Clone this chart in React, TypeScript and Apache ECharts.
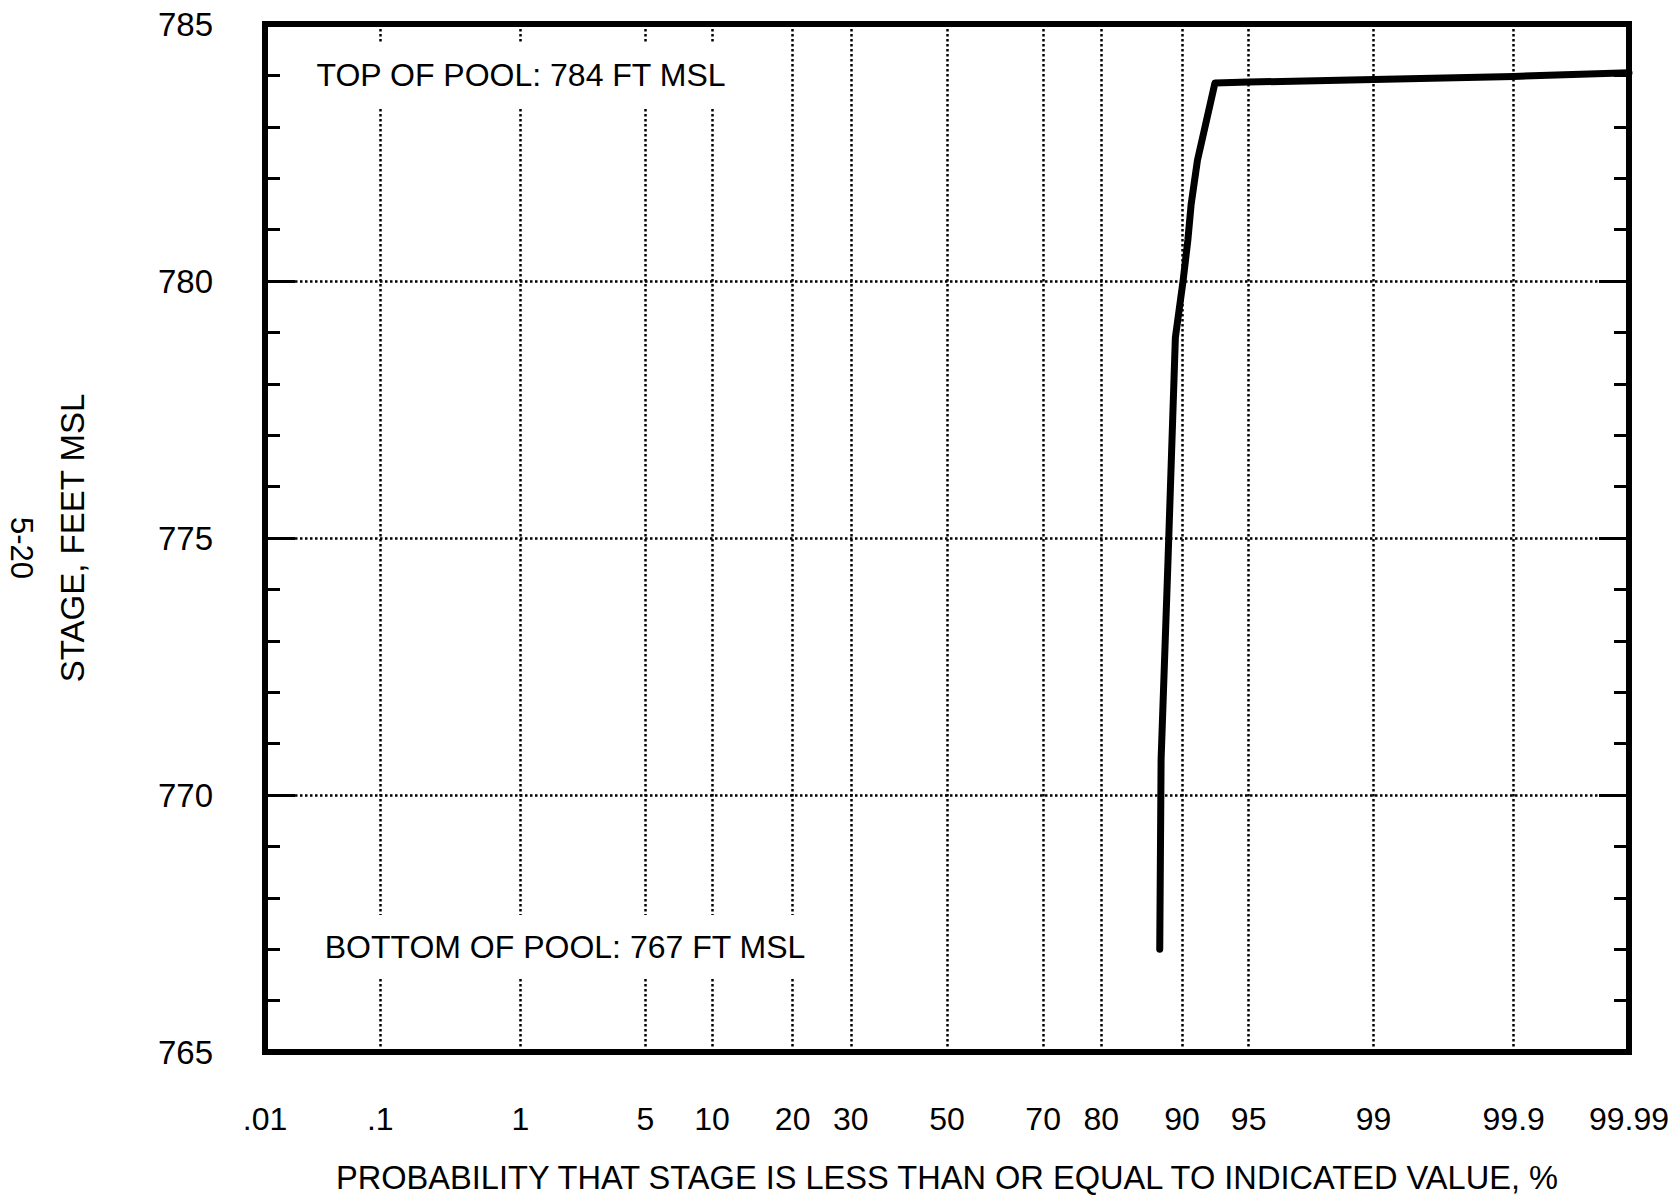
import React, { useEffect, useRef } from "react";
import * as echarts from "echarts";

// Probability (%) tick positions and labels on the normal-probability x axis
const probabilityTicks = [0.01, 0.1, 1, 5, 10, 20, 30, 50, 70, 80, 90, 95, 99, 99.9, 99.99];
const probabilityTickLabels = [".01", ".1", "1", "5", "10", "20", "30", "50", "70", "80", "90", "95", "99", "99.9", "99.99"];
// Stage axis
const stageMin = 765;
const stageMax = 785;
const stageInterval = 5;
// Stage-duration curve
const curveProbability = [87.7, 87.85, 88.6, 89.35, 90.1, 90.55, 90.85, 91.4, 92.8, 95, 99, 99.9, 99.99];
const curveStage = [767.0, 770.7, 774.6, 778.9, 780.0, 780.8, 781.5, 782.35, 783.85, 783.87, 783.92, 783.98, 784.05];

const FONT = "'Liberation Sans', Arial, Helvetica, sans-serif";

// inverse of the standard normal CDF (Acklam)
function normInv(p: number): number {
  const a = [-3.969683028665376e1, 2.209460984245205e2, -2.759285104469687e2, 1.38357751867269e2, -3.066479806614716e1, 2.506628277459239];
  const b = [-5.447609879822406e1, 1.615858368580409e2, -1.556989798598866e2, 6.680131188771972e1, -1.328068155288572e1];
  const c = [-7.784894002430293e-3, -3.223964580411365e-1, -2.400758277161838, -2.549732539343734, 4.374664141464968, 2.938163982698783];
  const d = [7.784695709041462e-3, 3.224671290700398e-1, 2.445134137142996, 3.754408661907416];
  const pl = 0.02425;
  const ph = 1 - pl;
  let q: number;
  let r: number;
  if (p < pl) {
    q = Math.sqrt(-2 * Math.log(p));
    return (((((c[0] * q + c[1]) * q + c[2]) * q + c[3]) * q + c[4]) * q + c[5]) / ((((d[0] * q + d[1]) * q + d[2]) * q + d[3]) * q + 1);
  }
  if (p <= ph) {
    q = p - 0.5;
    r = q * q;
    return ((((((a[0] * r + a[1]) * r + a[2]) * r + a[3]) * r + a[4]) * r + a[5]) * q) / (((((b[0] * r + b[1]) * r + b[2]) * r + b[3]) * r + b[4]) * r + 1);
  }
  q = Math.sqrt(-2 * Math.log(1 - p));
  return -(((((c[0] * q + c[1]) * q + c[2]) * q + c[3]) * q + c[4]) * q + c[5]) / ((((d[0] * q + d[1]) * q + d[2]) * q + d[3]) * q + 1);
}

const zOf = (pct: number) => normInv(pct / 100);

export default function App() {
  const ref = useRef<HTMLDivElement | null>(null);

  useEffect(() => {
    if (!ref.current) return;
    const chart = echarts.init(ref.current, null, { renderer: "svg" });

    const tickZ = probabilityTicks.map(zOf);
    const xMin = tickZ[0];
    const xMax = tickZ[tickZ.length - 1];
    const innerZ = tickZ.slice(1, -1);
    const labelFor = (v: number) => {
      let best = 0;
      let bd = Infinity;
      tickZ.forEach((z, i) => {
        const dd = Math.abs(z - v);
        if (dd < bd) {
          bd = dd;
          best = i;
        }
      });
      return probabilityTickLabels[best];
    };

    const data = curveProbability.map((p, i) => [zOf(p), curveStage[i]]);

    const gridLine = { color: "#000", width: 2.5, type: [2.5, 2.5] };

    const yCommon = {
      type: "value" as const,
      min: stageMin,
      max: stageMax,
      interval: stageInterval,
      axisLine: { show: true, onZero: false, lineStyle: { color: "#000", width: 6 } },
      axisTick: { show: true, inside: true, length: 30, lineStyle: { color: "#000", width: 3 } },
      minorTick: { show: true, splitNumber: 5, length: 15, lineStyle: { color: "#000", width: 3 } },
    };

    chart.setOption({
      animation: false,
      backgroundColor: "#fff",
      grid: {
        left: 265,
        right: 51,
        top: 24,
        bottom: 143,
        show: true,
        borderColor: "#000",
        borderWidth: 6,
        containLabel: false,
      },
      xAxis: {
        type: "value",
        min: xMin,
        max: xMax,
        axisLine: { show: true, onZero: false, lineStyle: { color: "#000", width: 6 } },
        axisTick: { show: false, customValues: innerZ },
        axisLabel: {
          customValues: tickZ,
          formatter: (v: number) => labelFor(v),
          fontSize: 32,
          fontFamily: FONT,
          color: "#000",
          margin: 51,
        },
        splitLine: { show: true, lineStyle: gridLine },
        name: "PROBABILITY THAT STAGE IS LESS THAN OR EQUAL TO INDICATED VALUE, %",
        nameLocation: "middle",
        nameGap: 109,
        nameTextStyle: { fontSize: 32.6, fontFamily: FONT, color: "#000" },
      },
      yAxis: [
        {
          ...yCommon,
          position: "left",
          axisLabel: { fontSize: 33, fontFamily: FONT, color: "#000", margin: 52 },
          splitLine: { show: true, lineStyle: gridLine },
          name: "STAGE, FEET MSL",
          nameLocation: "middle",
          nameGap: 176,
          nameTextStyle: { fontSize: 33, fontFamily: FONT, color: "#000" },
        },
        {
          ...yCommon,
          position: "right",
          axisLabel: { show: false },
          splitLine: { show: false },
        },
      ],
      graphic: [
        {
          type: "text",
          x: 521,
          y: 75,
          z: 10,
          style: {
            text: "TOP OF POOL: 784 FT MSL",
            font: `32px ${FONT}`,
            fill: "#000",
            align: "center",
            verticalAlign: "middle",
            backgroundColor: "#fff",
            padding: [16, 6],
          },
        },
        {
          type: "text",
          x: 565,
          y: 947,
          z: 10,
          style: {
            text: "BOTTOM OF POOL: 767 FT MSL",
            font: `32px ${FONT}`,
            fill: "#000",
            align: "center",
            verticalAlign: "middle",
            backgroundColor: "#fff",
            padding: [16, 6],
          },
        },
        {
          type: "text",
          x: 21,
          y: 548,
          rotation: -Math.PI / 2,
          style: {
            text: "5-20",
            font: `31px ${FONT}`,
            fill: "#000",
            align: "center",
            verticalAlign: "middle",
          },
        },
      ],
      series: [
        {
          type: "line",
          data,
          symbol: "none",
          smooth: false,
          lineStyle: { color: "#000", width: 7, cap: "round", join: "round" },
          z: 5,
        },
      ],
    });

    return () => chart.dispose();
  }, []);

  return <div ref={ref} style={{ position: "fixed", left: 0, top: 0, width: 1680, height: 1199 }} />;
}
